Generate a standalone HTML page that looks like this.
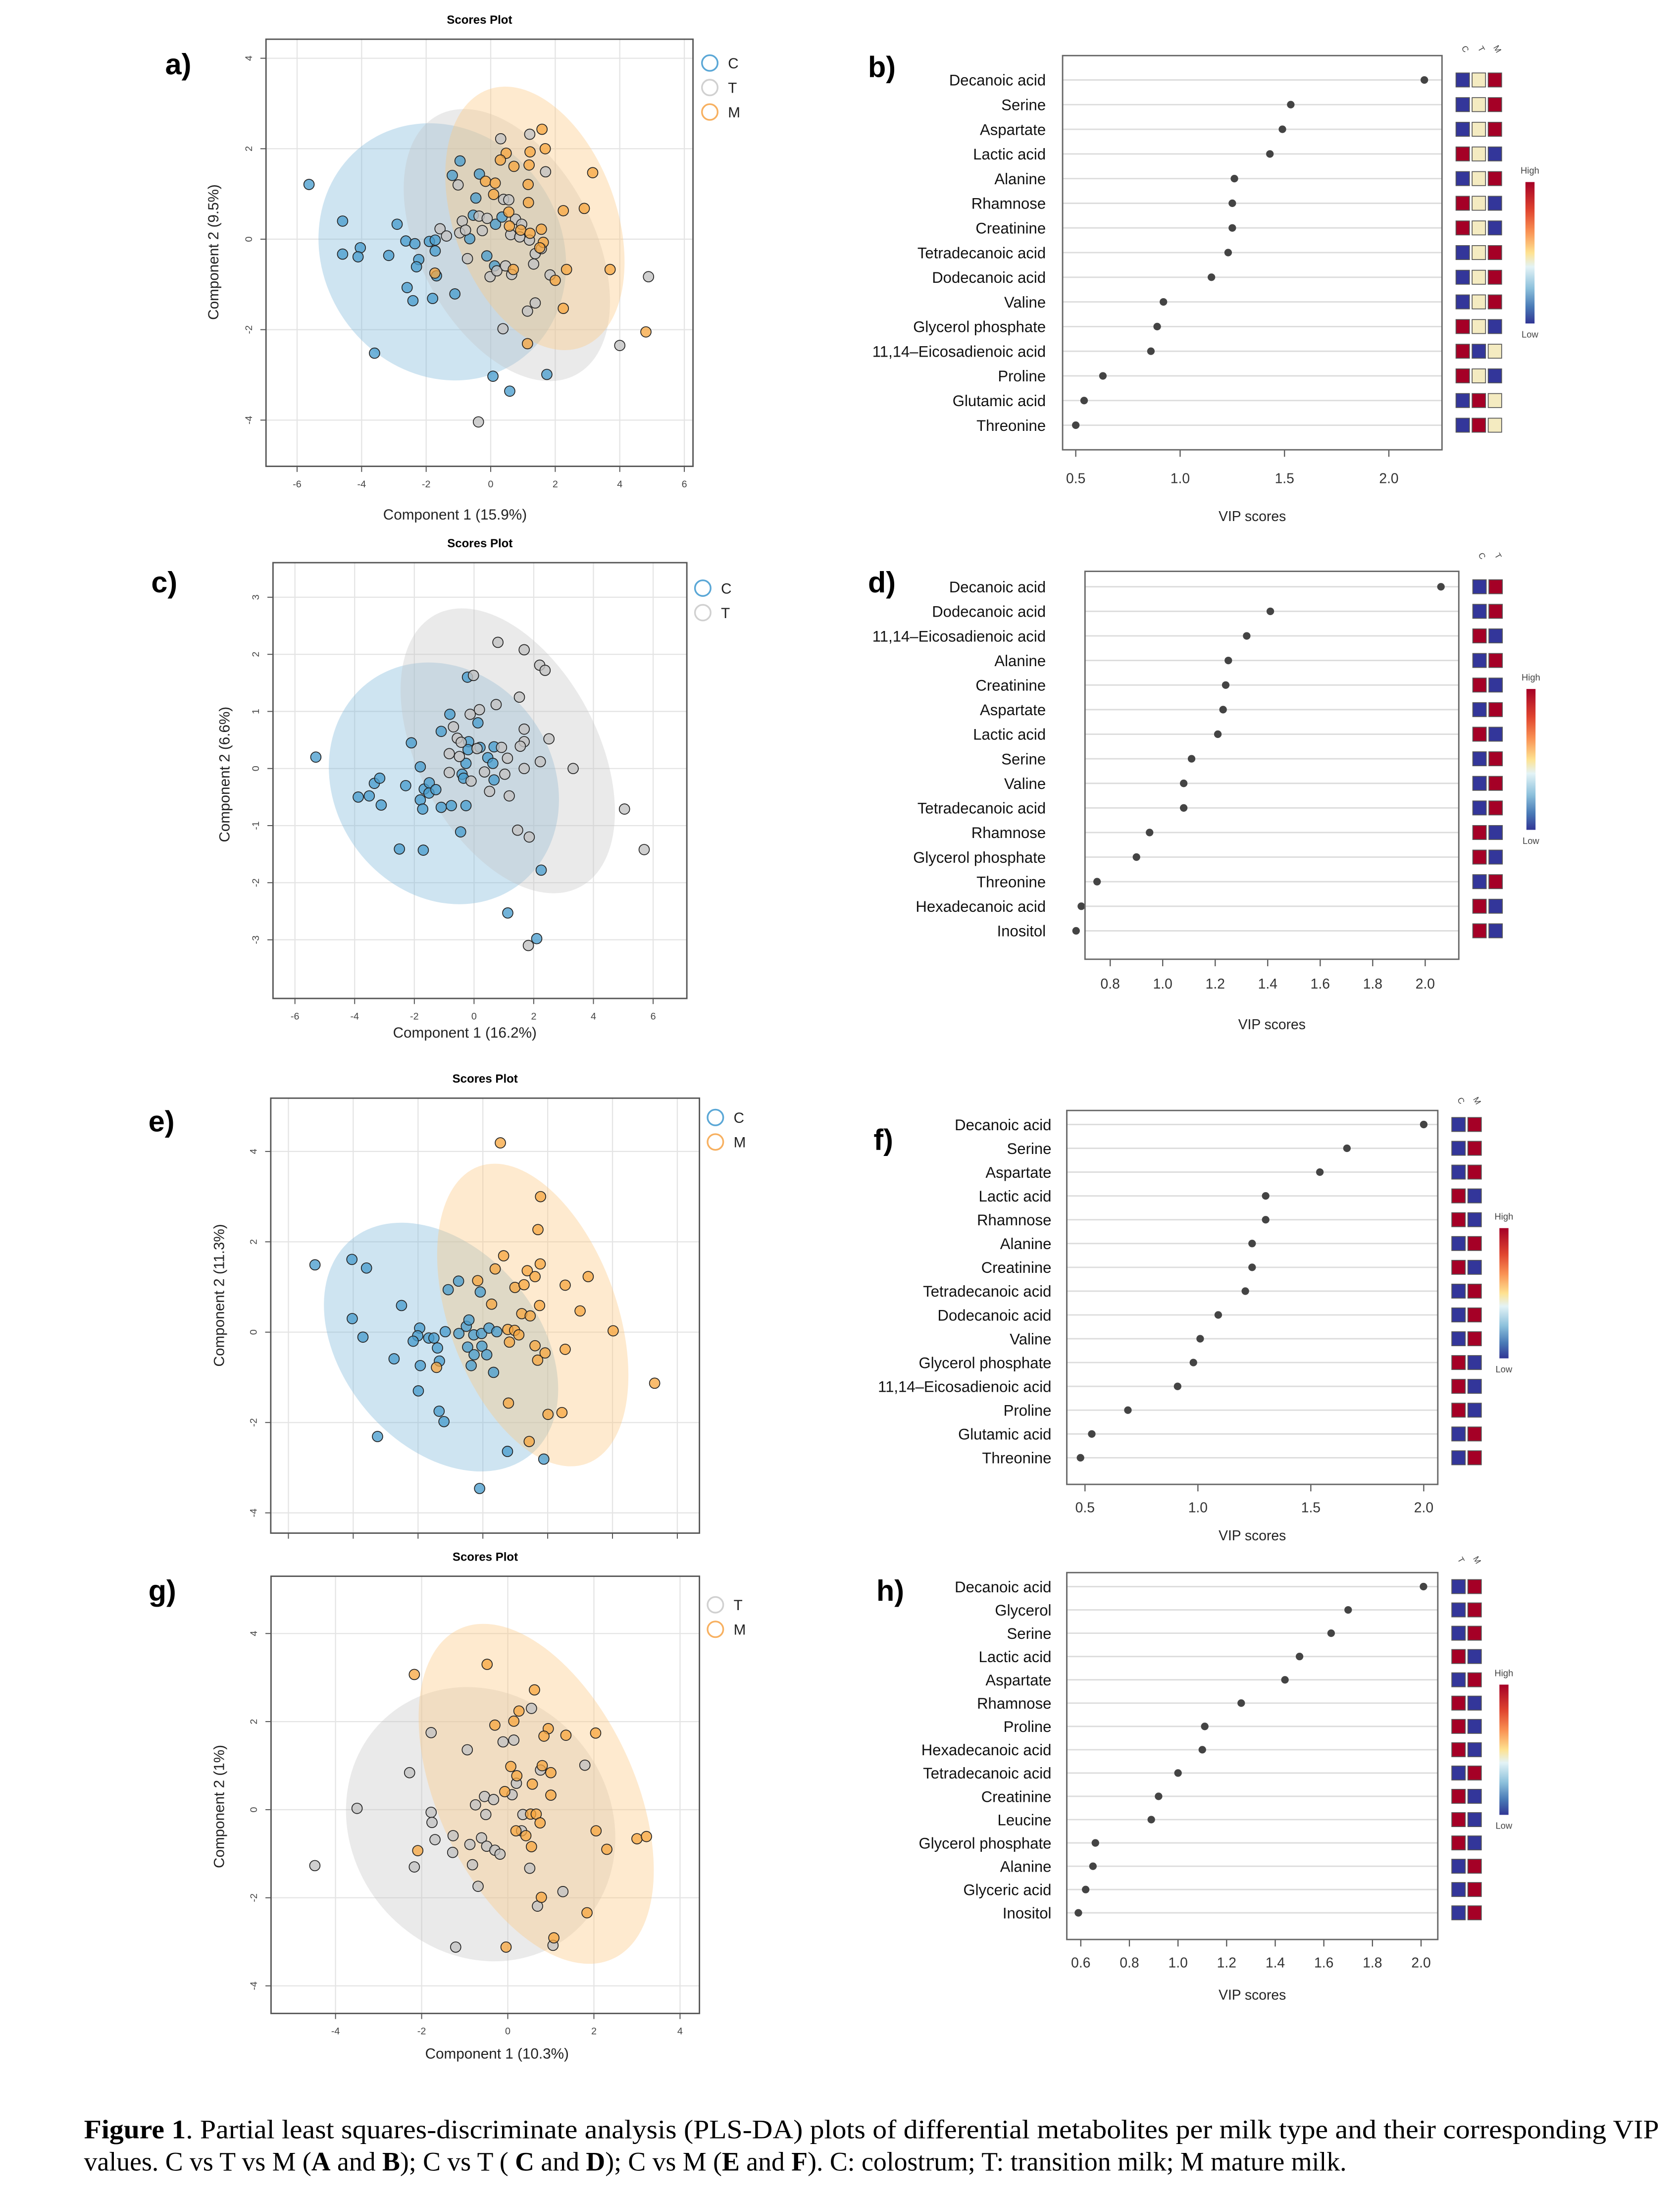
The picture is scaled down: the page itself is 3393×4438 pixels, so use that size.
<!DOCTYPE html>
<html><head><meta charset="utf-8"><style>html,body{margin:0;padding:0;background:#fff}svg{display:block}</style></head>
<body>
<svg id="fig" xmlns="http://www.w3.org/2000/svg" width="3393" height="4438" viewBox="0 0 1200 1569.6" preserveAspectRatio="none" font-family="Liberation Sans, sans-serif">
<rect x="0" y="0" width="1200" height="1570" fill="#fff"/>
<text x="118" y="53" font-size="21" font-weight="bold">a)</text>
<text x="620" y="55" font-size="21" font-weight="bold">b)</text>
<text x="108" y="423" font-size="21" font-weight="bold">c)</text>
<text x="620" y="423" font-size="21" font-weight="bold">d)</text>
<text x="106" y="808" font-size="21" font-weight="bold">e)</text>
<text x="624" y="821" font-size="21" font-weight="bold">f)</text>
<text x="106" y="1143" font-size="21" font-weight="bold">g)</text>
<text x="626" y="1143" font-size="21" font-weight="bold">h)</text>
<g font-family="Liberation Serif, serif" font-size="19">
<text x="60" y="1527" textLength="1125" lengthAdjust="spacingAndGlyphs"><tspan font-weight="bold">Figure 1</tspan>. Partial least squares-discriminate analysis (PLS-DA) plots of differential metabolites per milk type and their corresponding VIP</text>
<text x="60" y="1550">values.  C vs T vs M (<tspan font-weight="bold">A</tspan> and <tspan font-weight="bold">B</tspan>); C vs T ( <tspan font-weight="bold">C</tspan> and <tspan font-weight="bold">D</tspan>); C vs M (<tspan font-weight="bold">E</tspan> and <tspan font-weight="bold">F</tspan>).  C: colostrum; T: transition milk; M mature milk.</text>
</g>
<defs>
<linearGradient id="cbar" x1="0" y1="0" x2="0" y2="1">
<stop offset="0" stop-color="#a50026"/><stop offset="0.2" stop-color="#e0452f"/><stop offset="0.35" stop-color="#f99153"/><stop offset="0.5" stop-color="#fee290"/><stop offset="0.6" stop-color="#e3f3f6"/><stop offset="0.75" stop-color="#8dc1dc"/><stop offset="0.88" stop-color="#4a7bb7"/><stop offset="1" stop-color="#313695"/>
</linearGradient>
</defs>
</svg>
<script>
// ---------- Scores data (component1, component2) ----------
const aC=[[-5.63,1.21],[-4.59,0.4],[-4.59,-0.33],[-4.04,-0.19],[-4.11,-0.39],[-3.16,-0.36],[-2.9,0.33],[-2.63,-0.04],[-2.35,-0.1],[-2.23,-0.45],[-2.3,-0.61],[-2.59,-1.07],[-2.41,-1.36],[-1.8,-1.31],[-1.11,-1.21],[-1.9,-0.05],[-1.72,-0.02],[-1.72,-0.26],[-1.68,-0.81],[-1.19,1.41],[-0.95,1.73],[-0.35,1.44],[-0.46,0.91],[-0.54,0.53],[-0.65,0.01],[-0.12,-0.37],[0.12,-0.59],[0.15,0.33],[0.35,0.49],[-3.6,-2.52],[0.07,-3.03],[0.59,-3.36],[1.74,-2.99]];
const aT=[[0.31,2.22],[1.21,2.32],[1.7,1.49],[-1.01,1.2],[0.4,0.88],[0.56,0.87],[-0.36,0.51],[-0.11,0.46],[0.77,0.44],[0.96,0.33],[-0.88,0.4],[-1.57,0.23],[-1.37,0.07],[-0.96,0.14],[-0.78,0.2],[-0.26,0.19],[0.62,0.1],[0.9,0.05],[1.2,-0.02],[1.38,-0.32],[1.33,-0.55],[1.57,-0.21],[-0.72,-0.43],[-0.02,-0.83],[0.19,-0.7],[0.46,-0.59],[0.65,-0.78],[1.84,-0.79],[1.38,-1.41],[1.14,-1.59],[0.38,-1.98],[4.89,-0.83],[4.0,-2.35],[-0.38,-4.04]];
const aM=[[1.59,2.43],[1.69,2.0],[1.22,1.93],[0.48,1.9],[0.3,1.75],[0.72,1.61],[1.19,1.64],[-0.16,1.28],[0.14,1.24],[1.16,1.21],[0.09,0.99],[1.17,0.81],[3.16,1.47],[2.25,0.63],[2.9,0.68],[0.56,0.6],[0.58,0.29],[0.93,0.2],[1.22,0.13],[1.57,0.22],[1.63,-0.07],[1.52,-0.19],[-1.73,-0.75],[0.7,-0.67],[2.35,-0.67],[2.0,-0.91],[3.7,-0.67],[2.25,-1.53],[1.14,-2.31],[4.81,-2.05]];
const cC=[[-5.3,0.2],[-3.88,-0.5],[-3.51,-0.48],[-3.34,-0.26],[-3.16,-0.17],[-3.11,-0.64],[-2.29,-0.3],[-2.1,0.45],[-1.8,0.03],[-1.8,-0.55],[-1.72,-0.71],[-1.67,-0.36],[-1.5,-0.25],[-1.51,-0.43],[-1.28,-0.37],[-1.1,-0.68],[-0.76,-0.65],[-0.27,-0.65],[-1.1,0.65],[-0.81,0.95],[-0.22,1.6],[0.13,0.8],[-0.18,0.47],[-0.2,0.33],[0.2,0.37],[-0.27,0.09],[-0.4,-0.1],[-0.35,-0.17],[0.67,0.38],[0.46,0.19],[0.63,0.09],[0.67,-0.2],[-0.45,-1.11],[-2.5,-1.41],[-1.7,-1.43],[2.25,-1.78],[1.13,-2.53],[2.1,-2.98]];
const cT=[[0.8,2.21],[1.68,2.08],[2.2,1.81],[2.38,1.72],[-0.02,1.63],[1.52,1.25],[0.74,1.12],[0.18,1.03],[-0.13,0.95],[-0.69,0.73],[-0.56,0.53],[-0.43,0.46],[-0.83,0.26],[-0.49,0.21],[0.1,0.35],[0.92,0.37],[1.12,0.18],[1.68,0.69],[1.68,0.47],[1.55,0.39],[2.51,0.52],[2.22,0.12],[1.68,0.0],[0.35,-0.06],[1.03,-0.1],[-0.83,-0.07],[-0.1,-0.22],[0.52,-0.4],[1.18,-0.48],[3.32,0.0],[5.04,-0.71],[5.7,-1.42],[1.46,-1.08],[1.85,-1.2],[1.82,-3.1]];
const eC=[[-5.18,1.49],[-4.04,1.61],[-3.59,1.42],[-4.03,0.3],[-3.7,-0.11],[-2.51,0.59],[-2.74,-0.59],[-1.95,0.09],[-2.01,-0.08],[-2.15,-0.2],[-1.67,-0.13],[-1.51,-0.13],[-1.4,-0.35],[-1.34,-0.64],[-1.93,-0.74],[-1.99,-1.3],[-1.35,-1.75],[-1.2,-1.98],[-3.25,-2.31],[-0.75,1.13],[-1.07,0.94],[-0.08,0.89],[-1.16,0.01],[-0.74,-0.03],[-0.51,0.13],[-0.43,0.27],[-0.28,-0.06],[-0.04,-0.03],[0.19,0.09],[0.43,0.01],[-0.47,-0.33],[-0.27,-0.5],[-0.03,-0.31],[0.12,-0.5],[-0.36,-0.74],[0.33,-0.89],[0.76,-2.64],[1.88,-2.81],[-0.1,-3.46]];
const eM=[[0.54,4.19],[1.78,3.0],[1.7,2.27],[0.64,1.69],[1.77,1.51],[0.38,1.4],[1.37,1.36],[1.61,1.23],[-0.16,1.14],[0.99,0.99],[1.27,1.05],[2.54,1.04],[3.25,1.23],[0.27,0.62],[1.75,0.59],[3.0,0.47],[1.2,0.41],[1.46,0.36],[0.77,0.06],[0.98,0.04],[1.11,-0.06],[0.82,-0.22],[1.61,-0.3],[1.92,-0.46],[1.69,-0.62],[2.54,-0.38],[4.02,0.03],[-1.43,-0.78],[0.79,-1.57],[2.01,-1.82],[2.44,-1.78],[1.43,-2.42],[5.3,-1.13]];
const gT=[[-4.48,-1.27],[-3.5,0.03],[-2.28,0.84],[-1.78,1.75],[-1.78,-0.06],[-1.76,-0.29],[-1.69,-0.68],[-2.17,-1.3],[-1.27,-0.59],[-1.28,-0.97],[-0.88,-0.79],[-0.82,-1.25],[-0.69,-1.74],[-1.21,-3.12],[-0.94,1.36],[-0.75,0.11],[-0.54,0.3],[-0.33,0.23],[-0.51,-0.11],[-0.61,-0.64],[-0.49,-0.83],[-0.3,-0.92],[-0.18,-1.01],[-0.11,1.54],[0.14,1.58],[0.55,2.3],[0.1,0.34],[0.2,0.6],[0.76,0.9],[0.35,-0.11],[0.32,-0.48],[0.51,-1.33],[0.69,-2.19],[1.28,-1.86],[1.05,-3.08],[1.79,1.01]];
const gM=[[-2.17,3.07],[-0.48,3.3],[0.62,2.72],[0.26,2.24],[0.14,2.01],[-0.3,1.92],[0.94,1.84],[0.84,1.67],[1.35,1.69],[2.04,1.74],[0.07,0.98],[0.21,0.77],[0.8,1.0],[1.0,0.84],[0.57,0.58],[-0.07,0.41],[1.0,0.33],[0.53,-0.1],[0.66,-0.1],[0.75,-0.3],[0.19,-0.48],[0.42,-0.59],[0.55,-0.84],[2.05,-0.48],[2.3,-0.9],[3.0,-0.66],[3.22,-0.61],[-2.09,-0.93],[0.78,-1.99],[1.84,-2.34],[1.07,-2.91],[-0.04,-3.12]];
// ellipses: [centerX, centerY, radiusX, radiusY (data units), rotation deg]
const aEllC=[-1.5,-0.28,3.69,2.94,-35], aEllT=[0.5,-0.13,2.69,3.25,-28], aEllM=[1.37,0.46,2.52,3.03,-20];
const cEllC=[-1.01,-0.26,3.66,2.21,-35], cEllT=[1.13,0.31,3.0,2.7,-28];
const eEllC=[-1.29,-0.33,3.02,3.1,-40], eEllM=[1.54,0.38,2.59,3.5,-20];
const gEllT=[-0.63,-0.33,2.99,3.24,-40], gEllM=[0.66,0.36,2.28,4.13,-25];
const xTicksScores=[-6,-4,-2,0,2,4,6], xTicksG=[-4,-2,0,2,4];
const yTicks4=[-4,-2,0,2,4], yTicks3=[-3,-2,-1,0,1,2,3];

// ---------- VIP data ----------
const bNames=["Decanoic acid","Serine","Aspartate","Lactic acid","Alanine","Rhamnose","Creatinine","Tetradecanoic acid","Dodecanoic acid","Valine","Glycerol phosphate","11,14\u2013Eicosadienoic acid","Proline","Glutamic acid","Threonine"];
const bVip=[2.17,1.53,1.49,1.43,1.26,1.25,1.25,1.23,1.15,0.92,0.89,0.86,0.63,0.54,0.50];
const bHeat=[[0,2,1],[0,2,1],[0,2,1],[1,2,0],[0,2,1],[1,2,0],[1,2,0],[0,2,1],[0,2,1],[0,2,1],[1,2,0],[1,0,2],[1,2,0],[0,1,2],[0,1,2]];
const dNames=["Decanoic acid","Dodecanoic acid","11,14\u2013Eicosadienoic acid","Alanine","Creatinine","Aspartate","Lactic acid","Serine","Valine","Tetradecanoic acid","Rhamnose","Glycerol phosphate","Threonine","Hexadecanoic acid","Inositol"];
const dVip=[2.06,1.41,1.32,1.25,1.24,1.23,1.21,1.11,1.08,1.08,0.95,0.90,0.75,0.69,0.67];
const dHeat=[[0,1],[0,1],[1,0],[0,1],[1,0],[0,1],[1,0],[0,1],[0,1],[0,1],[1,0],[1,0],[0,1],[1,0],[1,0]];
const fNames=["Decanoic acid","Serine","Aspartate","Lactic acid","Rhamnose","Alanine","Creatinine","Tetradecanoic acid","Dodecanoic acid","Valine","Glycerol phosphate","11,14\u2013Eicosadienoic acid","Proline","Glutamic acid","Threonine"];
const fVip=[2.0,1.66,1.54,1.30,1.30,1.24,1.24,1.21,1.09,1.01,0.98,0.91,0.69,0.53,0.48];
const fHeat=[[0,1],[0,1],[0,1],[1,0],[1,0],[0,1],[1,0],[0,1],[0,1],[0,1],[1,0],[1,0],[1,0],[0,1],[0,1]];
const hNames=["Decanoic acid","Glycerol","Serine","Lactic acid","Aspartate","Rhamnose","Proline","Hexadecanoic acid","Tetradecanoic acid","Creatinine","Leucine","Glycerol phosphate","Alanine","Glyceric acid","Inositol"];
const hVip=[2.01,1.70,1.63,1.50,1.44,1.26,1.11,1.10,1.00,0.92,0.89,0.66,0.65,0.62,0.59];
const hHeat=[[0,1],[0,1],[0,1],[1,0],[0,1],[1,0],[1,0],[1,0],[0,1],[1,0],[1,0],[1,0],[0,1],[0,1],[0,1]];
const vipTicksA=[0.5,1.0,1.5,2.0], vipTicksB=[0.8,1.0,1.2,1.4,1.6,1.8,2.0], vipTicksC=[0.6,0.8,1.0,1.2,1.4,1.6,1.8,2.0];

const NS="http://www.w3.org/2000/svg";
const svg=document.getElementById('fig');
function mk(tag,attrs,parent){const e=document.createElementNS(NS,tag);for(const k in attrs)e.setAttribute(k,attrs[k]);(parent||svg).appendChild(e);return e;}
const COL={C:{fill:"rgba(74,157,206,0.78)",ell:"rgba(125,183,218,0.38)",leg:"#5aa7d6"},T:{fill:"rgba(195,195,195,0.8)",ell:"rgba(195,195,195,0.35)",leg:"#d0d0d0"},M:{fill:"rgba(247,166,62,0.75)",ell:"rgba(253,200,130,0.38)",leg:"#f7b060"}};
const HC=["#33369a","#a50026","#f4ebc1"];

function scores(p){
  const g=mk('g',{});
  
  
  const X=v=>p.x0+v*p.xu, Y=v=>p.y0-v*p.yu;
  // grid
  p.xg.forEach(v=>{const l=mk('line',{x1:X(v),x2:X(v),y1:p.t,y2:p.b,stroke:"#e4e4e4","stroke-width":0.8},g);
    const tk=mk('line',{x1:X(v),x2:X(v),y1:p.b,y2:p.b+4,stroke:"#555","stroke-width":0.7},g);
    if(p.xl){const t=mk('text',{x:X(v),y:p.b+15,"font-size":7,fill:"#444","text-anchor":"middle"},g);t.textContent=v;}});
  p.yg.forEach(v=>{const l=mk('line',{x1:p.l,x2:p.r,y1:Y(v),y2:Y(v),stroke:"#e4e4e4","stroke-width":0.8},g);
    const tk=mk('line',{x1:p.l-4,x2:p.l,y1:Y(v),y2:Y(v),stroke:"#555","stroke-width":0.7},g);
    const t=mk('text',{x:p.l-10,y:Y(v),"font-size":7,fill:"#444","text-anchor":"middle",transform:`rotate(-90 ${p.l-10} ${Y(v)})`},g);t.textContent=v;});
  // ellipses
  p.ell.forEach(([grp,e])=>{const cx=X(e[0]),cy=Y(e[1]);const el=mk('ellipse',{cx:cx,cy:cy,rx:e[2]*p.xu,ry:e[3]*p.yu,transform:`rotate(${e[4]} ${cx} ${cy})`,fill:COL[grp].ell},g);});
  // points
  p.pts.forEach(([grp,arr])=>arr.forEach(d=>{const c=mk('circle',{cx:X(d[0]),cy:Y(d[1]),r:3.7,fill:COL[grp].fill,stroke:"#222","stroke-width":0.6},g);}));
  const bx=mk('rect',{x:p.l,y:p.t,width:p.r-p.l,height:p.b-p.t,fill:"none",stroke:"#555","stroke-width":1},g);
  const tt=mk('text',{x:(p.l+p.r)/2,y:p.t-11,"font-size":8.5,"font-weight":"bold","text-anchor":"middle"},g);tt.textContent="Scores Plot";
  if(p.xlab){const t=mk('text',{x:p.xlab[1],y:p.xlab[2],"font-size":10.5,"text-anchor":"middle",fill:"#222"},g);t.textContent=p.xlab[0];}
  const yl=mk('text',{x:p.ylab[1],y:p.ylab[2],"font-size":10.5,"text-anchor":"middle",fill:"#222",transform:`rotate(-90 ${p.ylab[1]} ${p.ylab[2]})`},g);yl.textContent=p.ylab[0];
  p.leg.forEach((k,i)=>{const yy=p.legY+i*17.5;const c=mk('circle',{cx:p.legX,cy:yy,r:5.6,fill:"none",stroke:COL[k].leg,"stroke-width":1.2},g);
    const t=mk('text',{x:p.legX+13,y:yy+3.8,"font-size":10.5,fill:"#222"},g);t.textContent=k;});
}
scores({name:'scores-plot-a',l:190,r:495,t:28,b:333,x0:350.5,xu:23.05,y0:170.8,yu:32.3,xg:xTicksScores,yg:yTicks4,xl:true,ell:[['C',aEllC],['T',aEllT],['M',aEllM]],pts:[['C',aC],['T',aT],['M',aM]],xlab:["Component 1 (15.9%)",325,371],ylab:["Component 2 (9.5%)",156,180],leg:['C','T','M'],legX:507,legY:45});
scores({name:'scores-plot-c',l:195,r:490.6,t:401.8,b:713,x0:338.6,xu:21.32,y0:548.8,yu:40.77,xg:xTicksScores,yg:yTicks3,xl:true,ell:[['C',cEllC],['T',cEllT]],pts:[['C',cC],['T',cT]],xlab:["Component 1 (16.2%)",332,741],ylab:["Component 2 (6.6%)",164,553],leg:['C','T'],legX:502,legY:420});
scores({name:'scores-plot-e',l:193.4,r:499.6,t:784.2,b:1094.8,x0:344.9,xu:23.15,y0:951.3,yu:32.26,xg:xTicksScores,yg:yTicks4,xl:false,ell:[['C',eEllC],['M',eEllM]],pts:[['C',eC],['M',eM]],xlab:null,ylab:["Component 2 (11.3%)",160,925],leg:['C','M'],legX:511,legY:798});
scores({name:'scores-plot-g',l:193.6,r:499.6,t:1125.6,b:1437.8,x0:362.7,xu:30.76,y0:1292.3,yu:31.45,xg:xTicksG,yg:yTicks4,xl:true,ell:[['T',gEllT],['M',gEllM]],pts:[['T',gT],['M',gM]],xlab:["Component 1 (10.3%)",355,1470],ylab:["Component 2 (1%)",160,1290],leg:['T','M'],legX:511,legY:1146});

function vip(p){
  const g=mk('g',{});
  
  
  const X=v=>p.xa+(v-p.va)*p.xu;
  p.names.forEach((n,i)=>{const y=p.r0+i*p.rs;
    const gl=mk('line',{x1:p.l,x2:p.r,y1:y,y2:y,stroke:"#dcdcdc","stroke-width":1},g);
    const t=mk('text',{x:p.lx,y:y+4,"font-size":11,"text-anchor":"end",fill:"#111"},g);t.textContent=n;
    const c=mk('circle',{cx:X(p.vals[i]),cy:y,r:2.7,fill:"#444"},g);
    p.heat[i].forEach((h,j)=>{const r=mk('rect',{x:p.hx+j*11.5,y:y-5,width:9.6,height:10,fill:HC[h],stroke:"#555","stroke-width":0.6},g);});
  });
  p.ticks.forEach(v=>{const tk=mk('line',{x1:X(v),x2:X(v),y1:p.b,y2:p.b+5,stroke:"#555","stroke-width":0.8},g);
    const t=mk('text',{x:X(v),y:p.ty,"font-size":10,"text-anchor":"middle",fill:"#333"},g);t.textContent=v.toFixed(1);});
  const bx=mk('rect',{x:p.l,y:p.t,width:p.r-p.l,height:p.b-p.t,fill:"none",stroke:"#666","stroke-width":1},g);
  const xt=mk('text',{x:(p.l+p.r)/2,y:p.vy,"font-size":10,"text-anchor":"middle",fill:"#222"},g);xt.textContent="VIP scores";
  p.cols.forEach((c,j)=>{const cx=p.hx+4.8+j*11.5;const t=mk('text',{x:cx,y:p.cy,"font-size":6,"text-anchor":"middle",fill:"#444",transform:`rotate(60 ${cx} ${p.cy})`},g);t.textContent=c;});
  const cb=mk('rect',{x:p.cbx,y:p.cbt,width:6.5,height:p.cbb-p.cbt,fill:"url(#cbar)"},g);
  const hi=mk('text',{x:p.cbx+3.2,y:p.cbt-6,"font-size":6.5,"text-anchor":"middle",fill:"#444"},g);hi.textContent="High";
  const lo=mk('text',{x:p.cbx+3.2,y:p.cbb+10,"font-size":6.5,"text-anchor":"middle",fill:"#444"},g);lo.textContent="Low";
}
vip({name:'vip-plot-b',names:bNames,vals:bVip,heat:bHeat,cols:['C','T','M'],l:759,r:1030,t:39.7,b:321.2,xa:768.4,va:0.5,xu:149.1,ticks:vipTicksA,r0:57.1,rs:17.61,lx:747,hx:1040,ty:345,vy:372,cy:36,cbx:1089.6,cbt:130,cbb:231});
vip({name:'vip-plot-d',names:dNames,vals:dVip,heat:dHeat,cols:['C','T'],l:775,r:1042,t:408,b:685,xa:793,va:0.8,xu:187.5,ticks:vipTicksB,r0:419,rs:17.55,lx:747,hx:1052,ty:706,vy:735,cy:398,cbx:1090.3,cbt:492,cbb:592.6});
vip({name:'vip-plot-f',names:fNames,vals:fVip,heat:fHeat,cols:['C','M'],l:762,r:1027,t:793,b:1060,xa:775,va:0.5,xu:161.3,ticks:vipTicksA,r0:803,rs:17,lx:751,hx:1037,ty:1080,vy:1100,cy:787,cbx:1071,cbt:877,cbb:970});
vip({name:'vip-plot-h',names:hNames,vals:hVip,heat:hHeat,cols:['T','M'],l:762,r:1027,t:1123,b:1385,xa:772,va:0.6,xu:173.6,ticks:vipTicksC,r0:1133,rs:16.64,lx:751,hx:1037,ty:1405,vy:1428,cy:1115,cbx:1071,cbt:1203,cbb:1296});
</script>
</body></html>
